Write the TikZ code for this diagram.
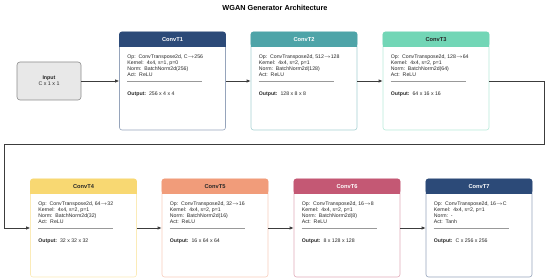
\documentclass[tikz,border=0pt]{standalone}
\usepackage{fontspec}
\setmainfont{Liberation Sans}
\usetikzlibrary{arrows.meta,positioning}
\definecolor{navy}{RGB}{44,74,120}
\definecolor{teal}{RGB}{78,164,168}
\definecolor{mint}{RGB}{114,214,182}
\definecolor{yell}{RGB}{248,216,114}
\definecolor{salm}{RGB}{241,156,122}
\definecolor{rose}{RGB}{196,88,116}
\definecolor{ink}{RGB}{40,40,40}
\definecolor{wire}{RGB}{60,60,60}

\begin{document}
\begin{tikzpicture}[
  x=1pt, y=-1pt,
  blk/.style={draw=#1!50, fill=white, rounded corners=2.5pt, line width=0.6pt,
              minimum width=106pt, minimum height=98pt, inner sep=0pt},
  hd/.style={font=\fontsize{5.7}{6}\selectfont\bfseries, inner sep=0pt},
  body/.style={font=\fontsize{5.2}{6}\selectfont, text=ink, align=left,
               inner sep=0pt, anchor=north west},
  outp/.style={font=\fontsize{5.2}{6}\selectfont, text=ink, inner sep=0pt,
               anchor=base west},
  sep/.style={black!40, line width=0.5pt},
  inbox/.style={draw=black!45, fill=black!9, rounded corners=3pt, line width=0.6pt,
                minimum width=64pt, minimum height=38pt, align=center,
                font=\fontsize{5.3}{6.3}\selectfont, text=ink},
  conn/.style={-{Latex[length=4pt,width=3.4pt]}, wire, line width=0.7pt},
]

\useasboundingbox (0,0) rectangle (550,280);

% ---- title ----
\node[font=\fontsize{7.3}{8}\selectfont\bfseries, text=black] (title) at (275,7.5)
      {WGAN Generator Architecture};

% ---- input ----
\node[inbox] (in) at (49,81) {\textbf{Input}\\C x 1 x 1};

% ---- layers ----
\foreach \i/\cx/\cy/\col/\tc/\op/\ker/\nrm/\act/\out in {
  1/172.5/81/navy/white/{C$\rightarrow$256}/{s=1, p=0}/{BatchNorm2d(256)}/ReLU/{256 x 4 x 4},
  2/304/81/teal/white/{512$\rightarrow$128}/{s=2, p=1}/{BatchNorm2d(128)}/ReLU/{128 x 8 x 8},
  3/436/81/mint/ink/{128$\rightarrow$64}/{s=2, p=1}/{BatchNorm2d(64)}/ReLU/{64 x 16 x 16},
  4/83.5/228/yell/ink/{64$\rightarrow$32}/{s=2, p=1}/{BatchNorm2d(32)}/ReLU/{32 x 32 x 32},
  5/215/228/salm/ink/{32$\rightarrow$16}/{s=2, p=1}/{BatchNorm2d(16)}/ReLU/{16 x 64 x 64},
  6/347/228/rose/white/{16$\rightarrow$8}/{s=2, p=1}/{BatchNorm2d(8)}/ReLU/{8 x 128 x 128},
  7/479/228/navy/white/{16$\rightarrow$C}/{s=2, p=1}/{-}/Tanh/{C x 256 x 256}}{
  \node[blk=\col] (t\i) at (\cx,\cy) {};
  \fill[\col, rounded corners=2.5pt] (t\i.north west) rectangle ([yshift=-15pt]t\i.north east);
  \fill[\col] ([yshift=-7pt]t\i.north west) rectangle ([yshift=-15pt]t\i.north east);
  \node[hd, text=\tc] (h\i) at ([yshift=-7.5pt]t\i.north) {ConvT\i};
  \node[body] (b\i) at ([xshift=8pt,yshift=-22.5pt]t\i.north west)
        {Op:\ \ ConvTranspose2d, \op\\Kernel:\ \ 4x4, \ker\\Norm:\ \ \nrm\\Act:\ \ \act};
  \draw[sep] ([xshift=8pt,yshift=-49.5pt]t\i.north west) -- ++(75,0);
  \node[outp] (o\i) at ([xshift=8pt,yshift=-64pt]t\i.north west)
        {\textbf{Output:}\ \ \out};
}

% ---- connectors ----
\draw[conn] (in) -- (t1);
\foreach \a/\b in {1/2,2/3,4/5,5/6,6/7}{\draw[conn] (t\a) -- (t\b);}

\coordinate (ra) at (544,144);
\coordinate (rb) at (4,144);
\draw[conn] (t3.east) -| (ra) -- (rb) |- (t4.west);

\end{tikzpicture}
\end{document}
